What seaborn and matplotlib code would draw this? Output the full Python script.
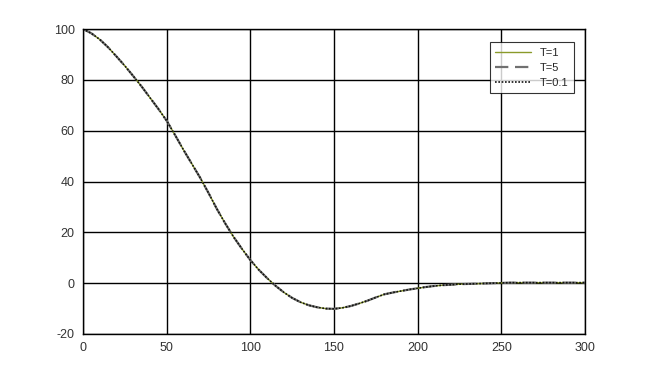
import numpy as np
import pandas as pd
import matplotlib
matplotlib.use("Agg")
import matplotlib.pyplot as plt
import seaborn as sns

x_vals = list(range(0, 301, 5))
response = [100, 98.3, 95.9, 92.8, 89.2, 85.5, 81.5, 77.4, 73.0, 68.6,
            63.9, 58.3, 52.5, 47.0, 41.5, 35.5, 29.2, 23.5, 18.2, 13.5,
            9.1, 5.3, 2.0, -1.0, -3.6, -5.8, -7.5, -8.7, -9.5, -10.0,
            -10.1, -9.7, -9.0, -8.0, -6.9, -5.6, -4.4, -3.7, -3.1, -2.5,
            -2.0, -1.5, -1.1, -0.8, -0.6, -0.4, -0.3, -0.2, -0.1, 0.0,
            0.1, 0.2, 0.2, 0.2, 0.2, 0.2, 0.2, 0.2, 0.2, 0.2, 0.2]
series_labels = ["T=1", "T=5", "T=0.1"]
x_ticks = [0, 50, 100, 150, 200, 250, 300]
y_ticks = [-20, 0, 20, 40, 60, 80, 100]

df = pd.DataFrame({"x": x_vals, "y": response})

sns.set_style("white")
plt.rcParams['font.family'] = ['Liberation Sans', 'DejaVu Sans']
plt.rcParams['axes.unicode_minus'] = False

fig = plt.figure(figsize=(6.46, 3.75), dpi=100)
ax = fig.add_axes([83/646, 1 - 334/375, (585-83)/646, (334-29)/375])

styles = [dict(color="#8a9a2a", linestyle="-", linewidth=1.0),
          dict(color="#707070", linestyle=(0, (6, 3)), linewidth=1.6),
          dict(color="#111111", linestyle=(0, (1, 1)), linewidth=1.2)]
for lab, st in zip(series_labels, styles):
    sns.lineplot(data=df, x="x", y="y", ax=ax, label=lab, **st)

ax.set_xlim(0, 300)
ax.set_ylim(-20, 100)
ax.set_xticks(x_ticks)
ax.set_yticks(y_ticks)
ax.grid(True, color="black", linewidth=1.0)
ax.set_axisbelow(True)
for s in ax.spines.values():
    s.set_color("black")
    s.set_linewidth(1.0)
ax.tick_params(axis="both", length=0, labelsize=9, labelcolor="#333333", pad=6)
ax.set_xlabel("")
ax.set_ylabel("")

leg = ax.legend(loc="upper right", bbox_to_anchor=(0.978, 0.957), borderaxespad=0,
                fontsize=8, frameon=True, fancybox=False, edgecolor="black",
                handlelength=3.2, borderpad=0.5, labelspacing=0.45)
leg.get_frame().set_linewidth(0.8)

fig.savefig("out.png", dpi=100)
